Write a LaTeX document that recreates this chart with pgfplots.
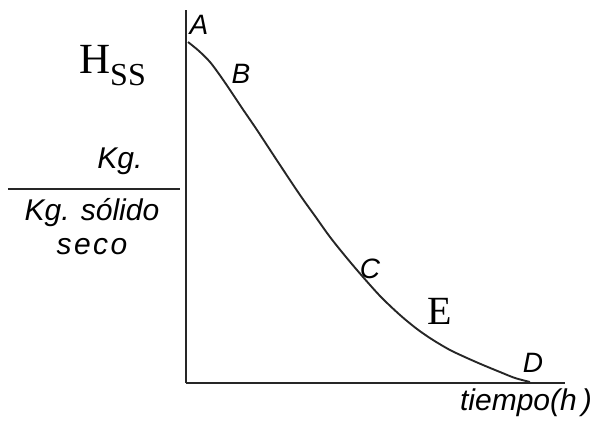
\documentclass[border=0pt]{standalone}
\usepackage{pgfplots}
\pgfplotsset{compat=1.18}
\usepackage{fontspec}
\setmainfont{Liberation Serif}
\newfontfamily\hel{Liberation Sans}
\begin{document}
\begin{tikzpicture}
\begin{axis}[
  scale only axis,
  x=1bp, y=1bp,
  xmin=186, xmax=565, ymin=40, ymax=413,
  axis lines=left,
  axis line style={-, line width=2pt, black!85},
  xtick=\empty, ytick=\empty,
  clip=false,
]
\path (axis cs:0,0) rectangle (axis cs:597,423);
\addplot[smooth, line width=1.9pt, black!85, tension=0.5] coordinates {
(188,381) (199,372) (210,361) (219,349) (228,336) (242,315) (257,293)
(278,261) (300,228) (315,207) (330,186) (346,166) (363,146) (381,126)
(400,108) (417,94) (433,83) (450,73) (467,65) (483,58) (500,51)
(515,45) (530,41)
};
% point labels
\node[font=\hel\itshape\fontsize{28bp}{30bp}\selectfont] at (axis cs:199,398) {A};
\node[font=\hel\itshape\fontsize{28bp}{30bp}\selectfont] at (axis cs:241,349) {B};
\node[font=\hel\itshape\fontsize{28bp}{30bp}\selectfont] at (axis cs:370,154) {C};
\node[font=\hel\itshape\fontsize{28bp}{30bp}\selectfont] at (axis cs:533,60) {D};
\node[font=\fontsize{40bp}{44bp}\selectfont] at (axis cs:440,112) {E};
% y label
\node[anchor=base west, inner sep=0pt, font=\fontsize{43bp}{46bp}\selectfont] at (axis cs:79,350) {H\raisebox{-12bp}{\fontsize{32bp}{34bp}\selectfont SS}};
\node[font=\hel\itshape\fontsize{30bp}{32bp}\selectfont] at (axis cs:120,262) {Kg.};
\draw[line width=2pt, black!85] (axis cs:8,234) -- (axis cs:180,234);
\node[font=\hel\itshape\fontsize{30bp}{32bp}\selectfont] at (axis cs:92,210) {Kg. sólido};
\node[font=\hel\itshape\fontsize{30bp}{32bp}\selectfont\addfontfeature{LetterSpace=8}] at (axis cs:92,176) {seco};
% x label
\node[font=\hel\itshape\fontsize{30bp}{32bp}\selectfont] at (axis cs:526,20) {tiempo(h\,)};
\end{axis}
\end{tikzpicture}
\end{document}
